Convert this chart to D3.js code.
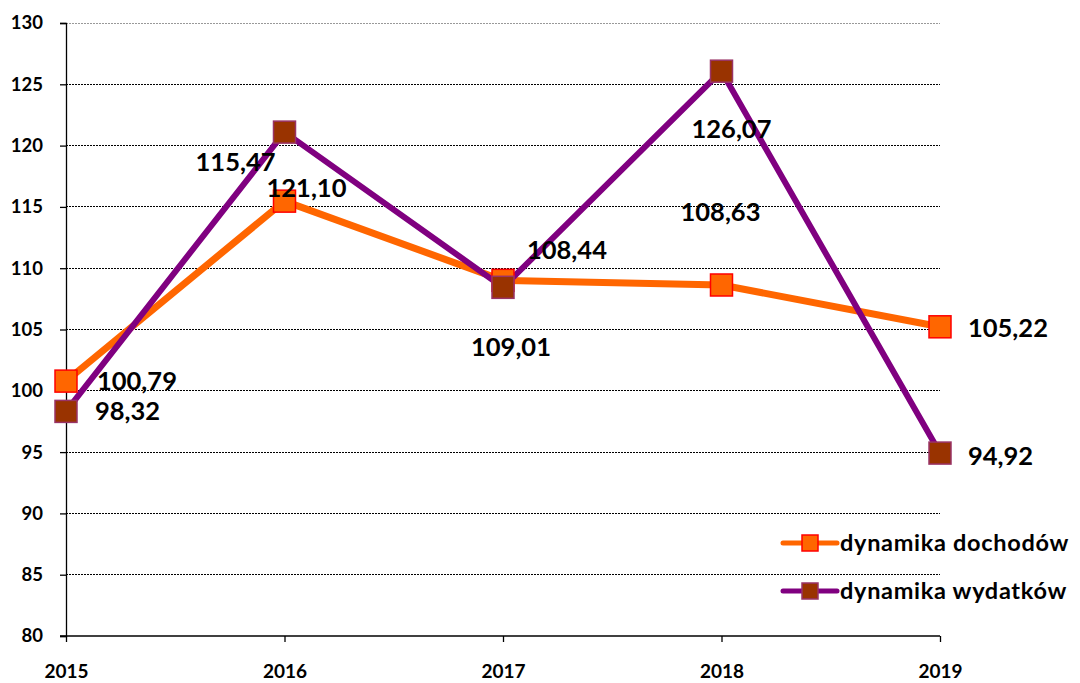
<!DOCTYPE html>
<html>
<head>
<meta charset="utf-8">
<script src="https://cdn.jsdelivr.net/npm/d3@7"></script>
<style>
  body { margin: 0; background: #fff; }
  text { font-family: Lato, "Noto Sans", sans-serif; font-weight: bold; }
</style>
</head>
<body>
<svg id="chart"></svg>
<script>
// data
var years = ["2015", "2016", "2017", "2018", "2019"];
var dochody = [100.79, 115.47, 109.01, 108.63, 105.22];
var wydatki = [98.32, 121.10, 108.44, 126.07, 94.92];
var yTicks = [80, 85, 90, 95, 100, 105, 110, 115, 120, 125, 130];
var seriesNames = ["dynamika dochodów", "dynamika wydatków"];

// label placement (pixels, relative to point): [dx, dy, anchor]
var dochodyLabelPos = [[31, 0, "start"], [-9, -39, "end"], [8, 67, "middle"], [-1, -73, "middle"], [28, 1, "start"]];
var wydatkiLabelPos = [[29, 0, "start"], [22, 56, "middle"], [24, -37, "start"], [10, 58, "middle"], [28, 3, "start"]];

var width = 1080, height = 683;
var margin = {top: 23, right: 140, bottom: 47, left: 66};

var svg = d3.select("#chart")
    .attr("width", width)
    .attr("height", height);

var x = d3.scalePoint()
    .domain(years)
    .range([margin.left, width - margin.right]);

var y = d3.scaleLinear()
    .domain([80, 130])
    .range([height - margin.bottom, margin.top]);

// gridlines
svg.append("g")
    .selectAll("line")
    .data(yTicks.filter(function(d) { return d > 80; }))
  .enter().append("line")
    .attr("x1", margin.left)
    .attr("x2", width - margin.right)
    .attr("y1", function(d) { return y(d); })
    .attr("y2", function(d) { return y(d); })
    .attr("stroke", function(d) { return d === 130 ? "#999" : "#000"; })
    .attr("stroke-width", 1)
    .attr("stroke-dasharray", "2,1")
    .attr("shape-rendering", "crispEdges");

// y axis
var yAxis = svg.append("g")
    .attr("transform", "translate(" + margin.left + ",0)")
    .call(d3.axisLeft(y).tickValues(yTicks).tickSize(6).tickPadding(17));
yAxis.select(".domain").attr("stroke", "#000").attr("stroke-width", 1.3);
yAxis.selectAll(".tick line").attr("stroke", "#000").attr("stroke-width", 1.3);
yAxis.selectAll(".tick text").style("font-size", "18.5px").attr("fill", "#000");

// x axis
var xAxis = svg.append("g")
    .attr("transform", "translate(0," + y(80) + ")")
    .call(d3.axisBottom(x).tickSize(6).tickPadding(23));
xAxis.select(".domain").attr("stroke", "#000").attr("stroke-width", 1.3)
    .attr("d", "M" + (margin.left - 6) + ",0H" + (width - margin.right));
xAxis.selectAll(".tick line").attr("stroke", "#000").attr("stroke-width", 1.3);
xAxis.selectAll(".tick text").style("font-size", "19px").attr("fill", "#000");

var line = d3.line()
    .x(function(d, i) { return x(years[i]); })
    .y(function(d) { return y(d); });

var series = [
  {values: dochody, color: "#FF6600", width: 7, fill: "#FF6600", stroke: "#FF0000", pos: dochodyLabelPos},
  {values: wydatki, color: "#800080", width: 6, fill: "#993300", stroke: "#993366", pos: wydatkiLabelPos}
];

var ms = 22;
series.forEach(function(s) {
  svg.append("path")
      .datum(s.values)
      .attr("fill", "none")
      .attr("stroke", s.color)
      .attr("stroke-width", s.width)
      .attr("stroke-linejoin", "round")
      .attr("d", line);
});

series.forEach(function(s) {
  svg.append("g")
      .selectAll("rect")
      .data(s.values)
    .enter().append("rect")
      .attr("x", function(d, i) { return x(years[i]) - ms / 2; })
      .attr("y", function(d) { return y(d) - ms / 2; })
      .attr("width", ms)
      .attr("height", ms)
      .attr("fill", s.fill)
      .attr("stroke", s.stroke)
      .attr("stroke-width", 1.5);
});

// data labels
series.forEach(function(s) {
  svg.append("g")
      .selectAll("text")
      .data(s.values)
    .enter().append("text")
      .attr("x", function(d, i) { return x(years[i]) + s.pos[i][0]; })
      .attr("y", function(d, i) { return y(d) + s.pos[i][1]; })
      .attr("dy", "0.35em")
      .attr("text-anchor", function(d, i) { return s.pos[i][2]; })
      .style("font-size", "25.5px")
      .attr("fill", "#000")
      .text(function(d) { return d3.format(".2f")(d).replace(".", ","); });
});

// legend
var legend = svg.append("g")
    .attr("transform", "translate(783,543)");
series.forEach(function(s, i) {
  var g = legend.append("g").attr("transform", "translate(0," + (i * 48) + ")");
  g.append("line")
      .attr("x1", 0).attr("x2", 54)
      .attr("stroke", s.color)
      .attr("stroke-width", 5)
      .attr("stroke-linecap", "round");
  g.append("rect")
      .attr("x", 19).attr("y", -8)
      .attr("width", 16).attr("height", 16)
      .attr("fill", s.fill)
      .attr("stroke", s.stroke)
      .attr("stroke-width", 1.5);
  g.append("text")
      .attr("x", 57)
      .attr("dy", "0.35em")
      .style("font-size", "23.5px")
      .style("letter-spacing", "0.7px")
      .attr("fill", "#000")
      .text(seriesNames[i]);
});
</script>
</body>
</html>
